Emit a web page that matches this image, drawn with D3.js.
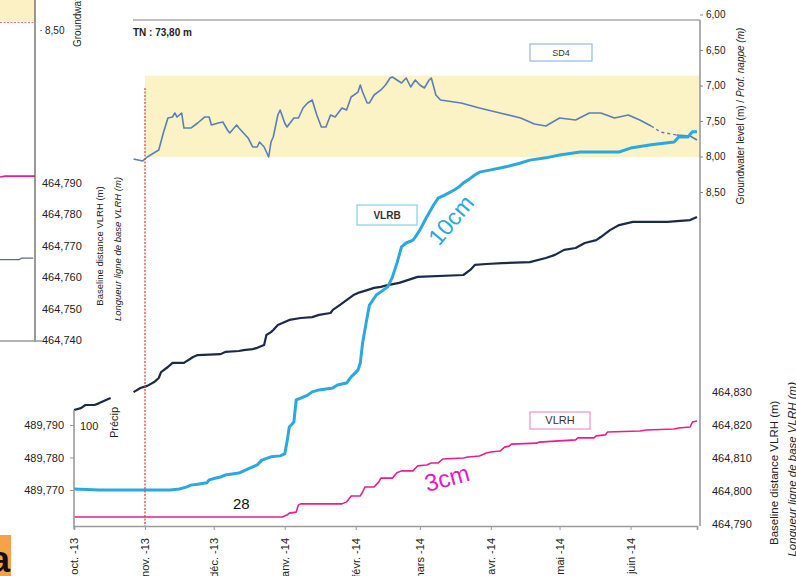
<!DOCTYPE html>
<html>
<head>
<meta charset="utf-8">
<script src="https://cdn.jsdelivr.net/npm/d3@7"></script>
<style>
  html, body { margin: 0; padding: 0; background: #fff; }
  svg { display: block; font-family: "Liberation Sans", Arial, sans-serif; }
</style>
</head>
<body>
<svg id="chart" width="796" height="576"></svg>
<script>
// ---- time frame -------------------------------------------------------
const startDate = new Date(2013, 9, 1);
const endDate = new Date(2014, 5, 30);
const interventionDate = new Date(2013, 10, 1);
const monthLabels = ["oct. -13", "nov. -13", "déc. -13", "janv. -14", "févr. -14",
                     "mars -14", "avr. -14", "mai -14", "juin -14"];

// ---- series: [days since 1 Oct 2013, value] ---------------------------
// VLRB baseline length (m), dark series
const vlrbDark = [[0,464.7177],[3,464.7183],[5,464.7193],[9,464.7193],[11,464.7199],[14,464.7209],
  [16,464.7215],[20,464.7222],[26,464.7234],[29,464.7247],[32,464.7254],[35,464.7266],[37,464.7279],
  [38,464.7298],[41,464.7314],[43,464.7327],[48,464.7327],[52,464.7346],[54,464.7352],[64,464.7355],
  [66,464.7362],[72,464.7365],[74,464.7368],[78,464.7371],[80,464.7375],[83,464.7384],[84,464.7416],
  [86,464.7425],[87,464.7432],[89,464.7448],[91,464.7454],[94,464.7464],[99,464.7470],[104,464.7473],
  [107,464.7480],[112,464.7486],[113,464.7496],[116,464.7511],[119,464.7527],[122,464.7543],
  [124,464.7550],[128,464.7559],[131,464.7566],[134,464.7569],[137,464.7575],[142,464.7582],
  [150,464.7601],[170,464.7607],[173,464.7623],[175,464.7639],[180,464.7642],[187,464.7645],
  [199,464.7648],[206,464.7661],[210,464.7671],[214,464.7687],[219,464.7693],[223,464.7709],
  [228,464.7718],[230,464.7728],[234,464.7750],[238,464.7766],[244,464.7776],[259,464.7776],
  [269,464.7782],[272,464.7792]];
const vlrbDarkHidden = [16.5, 25.5];

// VLRB baseline length (m), light blue series
const vlrbBlue = [[0,489.7703],[11,489.7700],[31,489.7700],[42,489.7700],[46,489.7703],[49,489.7709],
  [51,489.7715],[54,489.7718],[58,489.7722],[59,489.7731],[62,489.7737],[64,489.7740],[66,489.7746],
  [69,489.7749],[72,489.7752],[75,489.7762],[77,489.7768],[80,489.7777],[82,489.7792],[86,489.7802],
  [90,489.7805],[92,489.7811],[93,489.7848],[94,489.7894],[96,489.7909],[97,489.7977],[99,489.7983],
  [102,489.7992],[104,489.8002],[107,489.8008],[113,489.8014],[115,489.8023],[119,489.8029],
  [121,489.8048],[124,489.8069],[125,489.8091],[126,489.8152],[128,489.8232],[129,489.8269],
  [132,489.8300],[135,489.8315],[137,489.8325],[139,489.8355],[141,489.8398],[143,489.8448],
  [145,489.8460],[148,489.8469],[149,489.8478],[151,489.8500],[154,489.8540],[157,489.8577],
  [159,489.8598],[162,489.8608],[166,489.8623],[168,489.8632],[170,489.8645],[172,489.8654],
  [175,489.8669],[177,489.8678],[182,489.8685],[186,489.8691],[190,489.8697],[195,489.8706],
  [199,489.8715],[206,489.8722],[212,489.8731],[221,489.8740],[230,489.8740],[238,489.8740],
  [243,489.8752],[252,489.8762],[262,489.8771],[264,489.8786],[268,489.8786],[270,489.8802],
  [272,489.8802]];

// VLRH baseline length (m)
const vlrh = [[0,464.7921],[91,464.7921],[93,464.7927],[94,464.7933],[97,464.7936],[98,464.7958],
  [99,464.7961],[117,464.7961],[119,464.7967],[121,464.7985],[125,464.7985],[126,464.7997],
  [127,464.8012],[131,464.8012],[133,464.8027],[134,464.8039],[139,464.8039],[141,464.8055],
  [143,464.8061],[148,464.8061],[150,464.8076],[154,464.8079],[156,464.8085],[159,464.8085],
  [161,464.8097],[170,464.8100],[172,464.8103],[177,464.8106],[180,464.8115],[182,464.8118],
  [186,464.8121],[188,464.8133],[190,464.8136],[191,464.8142],[202,464.8145],[203,464.8148],
  [219,464.8155],[220,464.8161],[227,464.8161],[228,464.8167],[232,464.8170],[233,464.8179],
  [247,464.8182],[250,464.8185],[262,464.8188],[264,464.8191],[269,464.8194],[270,464.8209],
  [272,464.8212]];

// SD4 groundwater depth (m)
const sd4 = [[26,8.035],[30,8.063],[32,8.007],[37,7.908],[39,7.669],[41,7.458],[43,7.444],[44,7.387],
  [45,7.444],[47,7.387],[48,7.599],[51,7.599],[54,7.528],[57,7.444],[59,7.444],[60,7.556],[63,7.528],
  [65,7.514],[67,7.627],[68,7.669],[71,7.556],[72,7.599],[76,7.739],[78,7.866],[80,7.866],[81,7.796],
  [83,7.866],[85,8.007],[86,7.796],[87,7.725],[89,7.415],[90,7.345],[92,7.528],[93,7.585],[96,7.458],
  [98,7.458],[100,7.317],[102,7.246],[104,7.204],[106,7.415],[108,7.585],[110,7.585],[112,7.415],
  [114,7.444],[117,7.317],[119,7.345],[121,7.162],[124,7.092],[125,6.993],[126,7.092],[128,7.246],
  [129,7.246],[131,7.134],[134,7.063],[136,6.993],[138,6.894],[139,6.880],[141,6.923],[143,6.965],
  [145,6.894],[147,7.021],[149,6.923],[151,6.993],[153,7.035],[155,6.923],[156,6.894],[158,7.134],
  [160,7.204],[169,7.246],[177,7.317],[186,7.387],[195,7.458],[201,7.542],[206,7.570],[209,7.514],
  [212,7.458],[219,7.486],[225,7.387],[230,7.387],[236,7.458],[242,7.415],[247,7.486],[252,7.570],
  [256,7.655],[263,7.697],[269,7.711],[272,7.768]];
const sd4DashedSpan = [252, 263];
const gwBand = [6.86, 8.01];

// fragments of the neighbouring panel on the left (position 0..1, value)
const leftVlrh = [[0,464.7919],[0.15,464.7922],[1,464.7922]];
const leftVlrb = [[0,464.7656],[0.55,464.7656],[0.62,464.7661],[0.95,464.7661]];
const leftBand = [7.9, 8.38];

// tick values
const gwTicks = [6.0, 6.5, 7.0, 7.5, 8.0, 8.5];
const vlrbDarkTicks = [464.74, 464.75, 464.76, 464.77, 464.78, 464.79];
const vlrbBlueTicks = [489.77, 489.78, 489.79];
const vlrhTicks = [464.79, 464.80, 464.81, 464.82, 464.83];

// ---- scales -------------------------------------------------------------
const svg = d3.select("#chart");
const fr = d3.formatLocale({decimal: ",", thousands: " ", grouping: [3], currency: ["", " €"]});
const f3 = fr.format(".3f"), f2 = fr.format(".2f");
const day = d => d3.timeDay.offset(startDate, d);

const x = d3.scaleTime().domain([startDate, endDate]).range([74, 697]);
const yDark = d3.scaleLinear().domain([464.74, 464.79]).range([340, 183]);
const yBlue = d3.scaleLinear().domain([489.77, 489.79]).range([490, 425]);
const yVlrh = d3.scaleLinear().domain([464.79, 464.83]).range([524, 392]);
const yGW = d3.scaleLinear().domain([6.0, 8.5]).range([14.5, 192]);
const xLeft = d3.scaleLinear().domain([0, 1]).range([0, 35]);
const yGWLeft = d3.scaleLinear().domain([6.0, 8.5]).range([-146, 30]);

const gray = "#9a9a9a";

// ---- left neighbouring panel -------------------------------------------
svg.append("rect").attr("x", xLeft(0)).attr("width", xLeft(1) - xLeft(0))
  .attr("y", yGWLeft(leftBand[0])).attr("height", yGWLeft(leftBand[1]) - yGWLeft(leftBand[0]))
  .attr("fill", "#fbf1c4");
svg.append("line").attr("x1", xLeft(0)).attr("x2", xLeft(1))
  .attr("y1", yGWLeft(leftBand[1]) + 1).attr("y2", yGWLeft(leftBand[1]) + 1)
  .attr("stroke", "#f06a8a").attr("stroke-width", 1).attr("stroke-dasharray", "2,1.5");

svg.append("path").datum(leftVlrh)
  .attr("d", d3.line().x(d => xLeft(d[0])).y(d => yDark(d[1])))
  .attr("fill", "none").attr("stroke", "#ec1c8c").attr("stroke-width", 1.6);
svg.append("path").datum(leftVlrb)
  .attr("d", d3.line().x(d => xLeft(d[0])).y(d => yDark(d[1])))
  .attr("fill", "none").attr("stroke", "#5a6b8c").attr("stroke-width", 1.3);

svg.append("line").attr("x1", 35).attr("x2", 35).attr("y1", 0).attr("y2", yDark(464.74) + 2)
  .attr("stroke", "#555").attr("stroke-width", 1.2);
svg.append("line").attr("x1", 0).attr("x2", 42).attr("y1", yDark(464.74) + 1).attr("y2", yDark(464.74) + 1)
  .attr("stroke", gray).attr("stroke-width", 1.3);

const axDark = svg.append("g").attr("transform", "translate(35,0)")
  .call(d3.axisRight(yDark).tickValues(vlrbDarkTicks).tickSize(0).tickPadding(7).tickFormat(f3));
axDark.select(".domain").remove();
axDark.selectAll("text").attr("font-size", 11).attr("fill", "#222").attr("font-family", "Liberation Sans, Arial");

const axGWLeft = svg.append("g").attr("transform", "translate(40,0)")
  .call(d3.axisRight(yGWLeft).tickValues([8.5]).tickSize(2).tickPadding(3).tickFormat(f2));
axGWLeft.select(".domain").remove();
axGWLeft.selectAll("line").attr("stroke", "#888");
axGWLeft.selectAll("text").attr("font-size", 10).attr("fill", "#222").attr("font-family", "Liberation Sans, Arial");

svg.append("text").attr("transform", "translate(81,47) rotate(-90)")
  .attr("font-size", 10).attr("fill", "#222")
  .text("Groundwater level (m) / Prof. nappe (m)");

const leftTitle = svg.append("text").attr("transform", "translate(103,246) rotate(-90)")
  .attr("text-anchor", "middle").attr("font-size", 9.5).attr("fill", "#222");
leftTitle.text("Baseline distance VLRH (m)");
svg.append("text").attr("transform", "translate(121,249) rotate(-90)")
  .attr("text-anchor", "middle").attr("font-size", 9.5).attr("font-style", "italic").attr("fill", "#222")
  .text("Longueur ligne de base  VLRH (m)");

// ---- groundwater panel --------------------------------------------------
svg.append("line").attr("x1", 133).attr("x2", 700).attr("y1", 20).attr("y2", 20)
  .attr("stroke", "#aaa").attr("stroke-width", 1.6);
svg.append("text").attr("x", 133).attr("y", 36).attr("font-size", 10).attr("font-weight", "bold")
  .attr("fill", "#222").text("TN : 73,80 m");

svg.append("rect").attr("x", x(interventionDate)).attr("width", 700 - x(interventionDate))
  .attr("y", yGW(gwBand[0])).attr("height", yGW(gwBand[1]) - yGW(gwBand[0]))
  .attr("fill", "#fbf2c6");

const inDash = d => d[0] >= sd4DashedSpan[0] && d[0] <= sd4DashedSpan[1];
const gwLine = d3.line().x(d => x(day(d[0]))).y(d => yGW(d[1]));
svg.append("path").datum(sd4)
  .attr("d", gwLine.defined(d => !(d[0] > sd4DashedSpan[0] && d[0] < sd4DashedSpan[1]))(sd4))
  .attr("fill", "none").attr("stroke", "#5b7db8").attr("stroke-width", 1.6).attr("stroke-linejoin", "round");
svg.append("path")
  .attr("d", d3.line().x(d => x(day(d[0]))).y(d => yGW(d[1]))(sd4.filter(inDash)))
  .attr("fill", "none").attr("stroke", "#5b7db8").attr("stroke-width", 1.4).attr("stroke-dasharray", "3,3");

// legend boxes
function legendBox(x0, y0, w, h, stroke, label, size, weight) {
  svg.append("rect").attr("x", x0).attr("y", y0).attr("width", w).attr("height", h)
    .attr("fill", "#fff").attr("stroke", stroke).attr("stroke-width", 1.3);
  svg.append("text").attr("x", x0 + w / 2).attr("y", y0 + h / 2).attr("dy", "0.35em")
    .attr("text-anchor", "middle").attr("font-size", size).attr("font-weight", weight)
    .attr("fill", "#333").text(label);
}
legendBox(530, 44, 62, 17, "#9dbde3", "SD4", 9, "normal");

// right groundwater axis
svg.append("line").attr("x1", 700).attr("x2", 700).attr("y1", 20).attr("y2", 526)
  .attr("stroke", gray).attr("stroke-width", 1.6);
const axGW = svg.append("g").attr("transform", "translate(700,0)")
  .call(d3.axisRight(yGW).tickValues(gwTicks).tickSize(3).tickPadding(3).tickFormat(f2));
axGW.select(".domain").remove();
axGW.selectAll("line").attr("stroke", "#888");
axGW.selectAll("text").attr("font-size", 10).attr("fill", "#222").attr("font-family", "Liberation Sans, Arial");
const gwTitle = svg.append("text").attr("transform", "translate(744,116) rotate(-90)")
  .attr("text-anchor", "middle").attr("font-size", 10).attr("fill", "#222");
gwTitle.append("tspan").text("Groundwater level (m) / ");
gwTitle.append("tspan").attr("font-style", "italic").text("Prof. nappe (m)");

// ---- baseline series ----------------------------------------------------
const darkLine = d3.line()
  .defined(d => !(d[0] > vlrbDarkHidden[0] && d[0] < vlrbDarkHidden[1]))
  .x(d => x(day(d[0]))).y(d => yDark(d[1]));
svg.append("path").datum(vlrbDark).attr("d", darkLine)
  .attr("fill", "none").attr("stroke", "#1c2a4a").attr("stroke-width", 2.2).attr("stroke-linejoin", "round");

svg.append("path").datum(vlrbBlue)
  .attr("d", d3.line().x(d => x(day(d[0]))).y(d => yBlue(d[1])))
  .attr("fill", "none").attr("stroke", "#2aa8e0").attr("stroke-width", 3).attr("stroke-linejoin", "round");

svg.append("path").datum(vlrh)
  .attr("d", d3.line().x(d => x(day(d[0]))).y(d => yVlrh(d[1])))
  .attr("fill", "none").attr("stroke", "#ec1c8c").attr("stroke-width", 1.6).attr("stroke-linejoin", "round");

legendBox(357, 205, 60, 20, "#8dd3ea", "VLRB", 10, "bold");
legendBox(530, 412, 60, 17, "#f29ad0", "VLRH", 11, "normal");

// intervention marker
svg.append("line").attr("x1", x(interventionDate)).attr("x2", x(interventionDate))
  .attr("y1", 88).attr("y2", 526)
  .attr("stroke", "#e8323c").attr("stroke-width", 1.2).attr("stroke-dasharray", "2,1.5");

// displacement annotations
svg.append("text").attr("transform", "translate(451,220) rotate(-50)")
  .attr("text-anchor", "middle").attr("dy", "0.35em").attr("font-size", 23).attr("fill", "#29a9e0")
  .text("10cm");
svg.append("text").attr("transform", "translate(447,478) rotate(-15)")
  .attr("text-anchor", "middle").attr("dy", "0.35em").attr("font-size", 24).attr("fill", "#e31bc4")
  .text("3cm");

// ---- lower-left panel ----------------------------------------------------
svg.append("text").attr("x", 233).attr("y", 509).attr("font-size", 15).attr("fill", "#111").text("28");
svg.append("text").attr("x", 80).attr("y", 430).attr("font-size", 11).attr("fill", "#222").text("100");
svg.append("text").attr("transform", "translate(118,438) rotate(-90)")
  .attr("font-size", 11).attr("fill", "#222").text("Précip");

svg.append("line").attr("x1", 74).attr("x2", 74).attr("y1", 410).attr("y2", 529)
  .attr("stroke", gray).attr("stroke-width", 1.6);
const axBlue = svg.append("g").attr("transform", "translate(74,0)")
  .call(d3.axisLeft(yBlue).tickValues(vlrbBlueTicks).tickSize(4).tickPadding(6).tickFormat(f3));
axBlue.select(".domain").remove();
axBlue.selectAll("line").attr("stroke", gray);
axBlue.selectAll("text").attr("font-size", 11).attr("fill", "#222").attr("font-family", "Liberation Sans, Arial");

// right VLRH axis
const axVlrh = svg.append("g").attr("transform", "translate(700,0)")
  .call(d3.axisRight(yVlrh).tickValues(vlrhTicks).tickSize(0).tickPadding(12).tickFormat(f3));
axVlrh.select(".domain").remove();
axVlrh.selectAll("text").attr("font-size", 11).attr("fill", "#222").attr("font-family", "Liberation Sans, Arial");
svg.append("text").attr("transform", "translate(778,545) rotate(-90)")
  .attr("font-size", 11.5).attr("fill", "#222").text("Baseline distance VLRH (m)");
svg.append("text").attr("transform", "translate(796,382) rotate(-90)")
  .attr("text-anchor", "end").attr("font-size", 11.5).attr("font-style", "italic").attr("fill", "#222")
  .text("Longueur ligne de base  VLRH (m)");

// ---- time axis ------------------------------------------------------------
const monthTicks = d3.timeMonth.range(startDate, d3.timeDay.offset(endDate, 1));
const axX = svg.append("g").attr("transform", "translate(0,526)")
  .call(d3.axisBottom(x).tickValues(monthTicks.concat([endDate])).tickSize(4)
    .tickFormat((d, i) => i < monthLabels.length ? monthLabels[i] : ""));
axX.select(".domain").attr("stroke", gray).attr("stroke-width", 1.6);
axX.selectAll("line").attr("stroke", gray);
axX.selectAll("text")
  .attr("transform", "rotate(-90)").attr("text-anchor", "end")
  .attr("x", -12).attr("y", 0).attr("dy", "0.35em")
  .attr("font-size", 11).attr("fill", "#222").attr("font-family", "Liberation Sans, Arial");

// panel letter
svg.append("rect").attr("x", 0).attr("y", 535).attr("width", 11).attr("height", 41).attr("fill", "#f7a24b");
svg.append("text").attr("x", -10).attr("y", 572).attr("font-size", 36).attr("font-weight", "bold")
  .attr("fill", "#111").text("a");
</script>
</body>
</html>
